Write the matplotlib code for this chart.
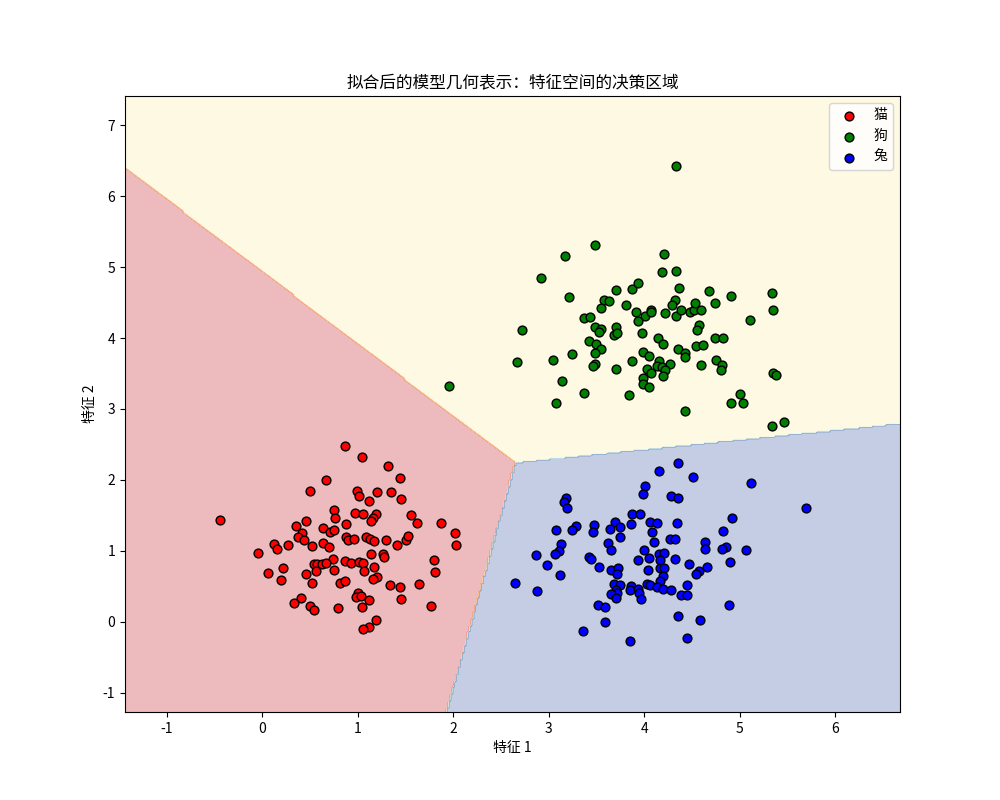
import numpy as np
from matplotlib import pyplot as plt

plt.rcParams['font.family'] = ['Noto Sans CJK SC', 'DejaVu Sans']
plt.rcParams['axes.unicode_minus'] = False

class_names = ['猫', '狗', '兔']
point_colors = ['red', 'green', 'blue']

# feature 1, feature 2 for each animal
cat_pts = [(-0.44, 1.43), (0.67, 2.00), (0.50, 1.85), (0.75, 1.58), (0.76, 1.46), (0.46, 1.42),
           (0.35, 1.35), (0.63, 1.32), (0.41, 1.25), (0.37, 1.20), (0.44, 1.16), (0.71, 1.26),
           (0.75, 1.30), (0.12, 1.10), (0.15, 1.02), (0.27, 1.09), (0.52, 1.07), (0.63, 1.11),
           (0.70, 1.06), (-0.05, 0.97), (0.74, 0.88), (0.54, 0.81), (0.57, 0.81), (0.62, 0.82),
           (0.67, 0.83), (0.22, 0.76), (0.06, 0.69), (0.56, 0.71), (0.46, 0.67), (0.75, 0.73),
           (0.19, 0.59), (0.52, 0.55), (0.40, 0.34), (0.33, 0.27), (0.50, 0.23), (0.54, 0.17),
           (0.86, 2.48), (1.04, 2.33), (1.32, 2.19), (1.44, 2.03), (0.99, 1.85), (1.01, 1.78),
           (1.20, 1.83), (1.35, 1.83), (1.12, 1.70), (1.45, 1.73), (0.97, 1.53), (1.05, 1.52),
           (1.19, 1.52), (1.16, 1.46), (1.14, 1.42), (1.56, 1.50), (1.62, 1.40), (1.87, 1.40),
           (2.02, 1.25), (2.03, 1.08), (0.88, 1.38), (0.88, 1.19), (0.90, 1.15), (0.96, 1.17),
           (1.09, 1.20), (1.13, 1.17), (1.17, 1.14), (1.29, 1.15), (1.41, 1.08), (1.50, 1.16),
           (1.53, 1.21), (1.14, 0.95), (1.26, 0.96), (1.27, 0.91), (0.87, 0.86), (0.93, 0.83),
           (1.01, 0.85), (1.05, 0.83), (1.17, 0.77), (1.06, 0.71), (1.80, 0.87), (1.81, 0.70),
           (1.20, 0.63), (1.16, 0.60), (0.81, 0.55), (0.87, 0.57), (1.34, 0.52), (1.44, 0.49),
           (1.64, 0.54), (1.00, 0.41), (0.98, 0.35), (1.03, 0.37), (1.12, 0.31), (1.45, 0.32),
           (0.79, 0.20), (1.04, 0.21), (1.77, 0.22), (1.19, 0.03), (1.12, -0.07), (1.05, -0.10)]

dog_pts = [(3.48, 5.31), (3.17, 5.15), (2.92, 4.84), (3.21, 4.58), (3.58, 4.54), (3.63, 4.52),
           (3.55, 4.42), (3.37, 4.28), (3.43, 4.30), (3.48, 4.15), (3.55, 4.13), (3.53, 4.08),
           (2.72, 4.11), (3.42, 3.96), (3.50, 3.92), (3.55, 3.85), (3.48, 3.79), (2.67, 3.66),
           (3.04, 3.69), (3.24, 3.77), (3.48, 3.64), (3.46, 3.60), (3.14, 3.39), (1.95, 3.33),
           (3.37, 3.23), (3.08, 3.09),
           (4.33, 6.42), (4.21, 5.18), (4.19, 4.93), (4.33, 4.95), (3.70, 4.68), (3.87, 4.69),
           (3.93, 4.77), (4.36, 4.70), (4.68, 4.66), (4.91, 4.59), (5.34, 4.64), (5.35, 4.39),
           (5.11, 4.25), (3.81, 4.46), (3.91, 4.36), (4.01, 4.31), (3.93, 4.24), (4.07, 4.40),
           (4.07, 4.36), (4.22, 4.35), (4.32, 4.54), (4.29, 4.47), (4.33, 4.31), (4.39, 4.39),
           (4.48, 4.37), (4.52, 4.39), (4.53, 4.50), (4.60, 4.40), (4.74, 4.49), (4.57, 4.18),
           (4.55, 4.11), (3.70, 4.15), (3.68, 4.04), (3.72, 4.07), (3.98, 4.07), (4.14, 4.00),
           (4.20, 3.92), (4.35, 3.85), (4.54, 3.89), (4.62, 3.90), (4.74, 4.00), (4.83, 4.00),
           (3.99, 3.80), (4.05, 3.75), (4.43, 3.79), (4.43, 3.73), (3.87, 3.68), (4.16, 3.68),
           (4.27, 3.63), (3.70, 3.57), (4.03, 3.57), (4.07, 3.51), (4.13, 3.61), (4.19, 3.59),
           (4.22, 3.55), (4.20, 3.46), (4.60, 3.62), (4.75, 3.69), (4.81, 3.62), (4.80, 3.55),
           (3.99, 3.43), (3.99, 3.35), (4.05, 3.31), (3.84, 3.19), (4.43, 2.97), (4.91, 3.08),
           (5.00, 3.21), (5.03, 3.08), (5.35, 3.51), (5.38, 3.48), (5.34, 2.76), (5.46, 2.81)]

rabbit_pts = [(4.01, 1.91), (3.99, 1.80), (3.18, 1.75), (3.16, 1.69), (3.19, 1.61), (3.87, 1.52),
              (3.96, 1.52), (3.86, 1.38), (3.69, 1.41), (3.75, 1.33), (3.64, 1.31), (3.47, 1.37),
              (3.46, 1.26), (3.29, 1.35), (3.24, 1.29), (3.08, 1.30), (3.75, 1.20), (3.62, 1.11),
              (3.65, 1.01), (3.13, 1.10), (3.11, 1.00), (3.07, 0.95), (2.87, 0.94), (2.98, 0.80),
              (3.42, 0.92), (3.44, 0.88), (3.53, 0.77), (4.00, 1.01), (4.05, 0.90), (3.94, 0.87),
              (4.04, 0.73), (3.65, 0.73), (3.73, 0.76), (3.72, 0.68), (3.12, 0.66), (2.65, 0.55),
              (2.88, 0.44), (3.68, 0.53), (3.75, 0.52), (3.70, 0.45), (3.72, 0.41), (3.65, 0.39),
              (3.70, 0.33), (3.86, 0.50), (3.85, 0.45), (3.93, 0.46), (3.95, 0.41), (3.97, 0.32),
              (4.03, 0.54), (4.06, 0.52), (3.52, 0.24), (3.59, 0.21), (3.59, 0.00), (3.36, -0.13),
              (3.85, -0.27),
              (4.35, 2.24), (4.16, 2.13), (4.51, 2.04), (5.12, 1.96), (5.69, 1.60), (4.28, 1.77),
              (4.35, 1.74), (4.06, 1.41), (4.13, 1.40), (4.34, 1.40), (4.08, 1.26), (4.10, 1.12),
              (4.27, 1.17), (4.32, 1.17), (4.92, 1.47), (4.83, 1.28), (4.64, 1.12), (4.64, 1.02),
              (4.86, 1.06), (4.82, 1.02), (5.07, 1.01), (4.90, 0.85), (4.15, 0.96), (4.21, 0.97),
              (4.17, 0.87), (4.32, 0.88), (4.47, 0.82), (4.66, 0.77), (4.57, 0.72), (4.54, 0.67),
              (4.17, 0.76), (4.21, 0.76), (4.20, 0.65), (4.17, 0.58), (4.13, 0.49), (4.20, 0.47),
              (4.28, 0.45), (4.45, 0.52), (4.39, 0.38), (4.45, 0.38), (4.89, 0.24), (4.35, 0.08),
              (4.58, 0.03), (4.45, -0.23)]

# linear model (one row per class: cat, dog, rabbit)
coef = [(0.0, 0.0), (0.8107, 0.7970), (0.9458, -0.1940)]
intercept = [0.0, -3.9337, -2.0718]

groups = [np.array(cat_pts), np.array(dog_pts), np.array(rabbit_pts)]
X = np.vstack(groups)

h = 0.02
x_min, x_max = X[:, 0].min() - 1, X[:, 0].max() + 1
y_min, y_max = X[:, 1].min() - 1, X[:, 1].max() + 1
xx, yy = np.meshgrid(np.arange(x_min, x_max, h), np.arange(y_min, y_max, h))
grid = np.c_[xx.ravel(), yy.ravel()]
scores = grid @ np.array(coef).T + np.array(intercept)
Z = scores.argmax(axis=1).reshape(xx.shape)

fig, ax = plt.subplots(figsize=(10, 8), dpi=100)
ax.contourf(xx, yy, Z, alpha=0.3, cmap=plt.cm.RdYlBu)

for pts, name, col in zip(groups, class_names, point_colors):
    ax.scatter(pts[:, 0], pts[:, 1], c=col, edgecolors='k', s=40, label=name)

plt.title('拟合后的模型几何表示：特征空间的决策区域')
plt.xlabel('特征 1')
plt.ylabel('特征 2')
plt.legend(loc='upper right')
plt.savefig('out.png')
